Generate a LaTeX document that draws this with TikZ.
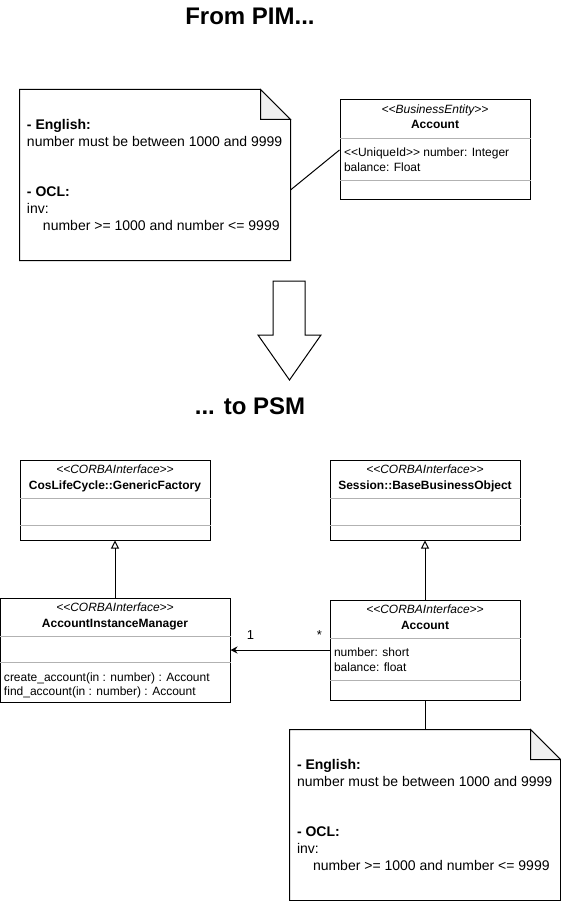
\documentclass[tikz,border=0pt]{standalone}
\usepackage{fontspec}
\setmainfont{Liberation Sans}
\usetikzlibrary{calc,arrows.meta}
\newcommand{\stereo}[1]{{<}{<}#1{>}{>}}
\newcommand{\umlclass}[8]{%
  \node[cls,minimum width=#4,minimum height=#5] (#1) at ({#2+#4/2},{#3+#5/2}) {};
  \node[anchor=base] at ($(#1.north)+(0,14)$) {\textit{\stereo{#6}}};
  \node[anchor=base] at ($(#1.north)+(0,29.5)$) {\textbf{#7}};
  \draw[sepline] ($(#1.north west)+(0,39)$) -- ($(#1.north east)+(0,39)$);
  \draw[sepline] ($(#1.north west)+(0,#8)$) -- ($(#1.north east)+(0,#8)$);
}
\newcommand{\umlnote}[3]{%
  \node[notebox] (#1) at (#2,#3) {};
  \draw[fill=white] (#1.north west) -- ($(#1.north east)+(-30,0)$) -- ($(#1.north east)+(0,30)$)
    -- (#1.south east) -- (#1.south west) -- cycle;
  \draw[fill=gray!12] ($(#1.north east)+(-30,0)$) -- ($(#1.north east)+(-30,30)$) -- ($(#1.north east)+(0,30)$) -- cycle;
  \node[notetext] at ($(#1.west)+(7,0)$) {\textbf{- English:}\\ number must be between 1000 and 9999\\[32pt]
    \textbf{- OCL:}\\ inv:\\ \hspace*{16pt}number {>}= 1000 and number {<}= 9999};
}
\begin{document}
\begin{tikzpicture}[x=1pt,y=-1pt,line width=1pt,
    every node/.style={inner sep=0pt,font=\fontsize{12}{14.5}\selectfont},
    cls/.style={draw,fill=white},
    sepline/.style={draw=gray!60},
    attr/.style={anchor=north west,align=left},
    notebox/.style={minimum width=270,minimum height=170},
    notetext/.style={anchor=west,align=left,font=\fontsize{14}{17.2}\selectfont},
    heading/.style={font=\fontsize{24}{28}\selectfont\bfseries},
    gen/.style={-{Triangle[open,length=8pt,width=8pt]}},
    assoc/.style={-{Stealth[length=7pt,width=7pt]}}
  ]
  \useasboundingbox (0,0) rectangle (561,901);
  % platform independent model
  \node[heading] (pimtitle) at (250,16) {From PIM...};
  \umlnote{pimnote}{155}{175}
  \umlclass{pimacc}{340}{100}{190}{100}{BusinessEntity}{Account}{81}
  \node[attr] at ($(pimacc.north west)+(4,48)$) {\stereo{UniqueId} number: Integer\\ balance: Float};
  \draw ($(pimnote.east)+(0,15)$) -- (pimacc.west);
  % big arrow
  \draw (273,281) -- (305,281) -- (305,335) -- (321,335) -- (289.5,380) -- (258,335) -- (273,335) -- cycle;
  % platform specific model
  \node[heading] (psmtitle) at (250,406) {... to PSM};
  \umlclass{factory}{20}{460}{190}{80}{CORBAInterface}{CosLifeCycle::GenericFactory}{66}
  \umlclass{bbo}{330}{460}{190}{80}{CORBAInterface}{Session::BaseBusinessObject}{66}
  \umlclass{aim}{0}{598}{230}{104}{CORBAInterface}{AccountInstanceManager}{65}
  \node[attr] at ($(aim.north west)+(4,74.5)$) {create\_account(in : number) : Account\\ find\_account(in : number) : Account};
  \umlclass{psmacc}{330}{600}{190}{100}{CORBAInterface}{Account}{81}
  \node[attr] at ($(psmacc.north west)+(4,48)$) {number: short\\ balance: float};
  \draw[gen] (aim.north) -- (factory.south);
  \draw[gen] (psmacc.north) -- (bbo.south);
  \draw[assoc] (psmacc.west) -- (aim.east);
  \node[font=\fontsize{13}{15}\selectfont] (one) at ($(aim.east)+(20,-15)$) {1};
  \node[font=\fontsize{13}{15}\selectfont] (many) at ($(psmacc.west)+(-10,-15)$) {*};
  \umlnote{psmnote}{425}{815}
  \draw (psmacc.south) -- (psmnote.north);
\end{tikzpicture}
\end{document}
